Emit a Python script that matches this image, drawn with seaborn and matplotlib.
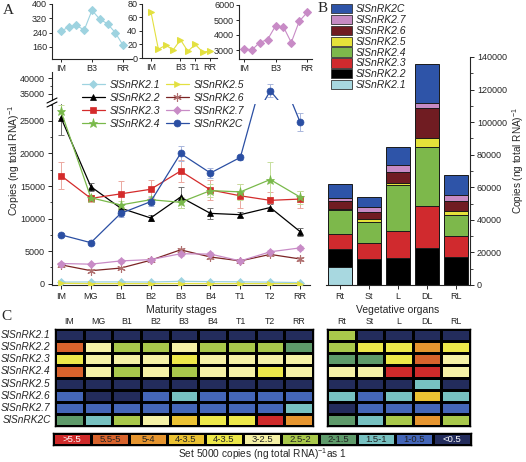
import numpy as np
import pandas as pd
import matplotlib
matplotlib.use('Agg')
import matplotlib.pyplot as plt
import seaborn as sns
from matplotlib.colors import ListedColormap
from matplotlib.patches import Patch
from matplotlib.lines import Line2D
from matplotlib.ticker import MultipleLocator

# ---------------- data ----------------
stages = ['IM', 'MG', 'B1', 'B2', 'B3', 'B4', 'T1', 'T2', 'RR']
organs = ['Rt', 'St', 'L', 'DL', 'RL']
genes = ['SlSnRK2.1', 'SlSnRK2.2', 'SlSnRK2.3', 'SlSnRK2.4',
         'SlSnRK2.5', 'SlSnRK2.6', 'SlSnRK2.7', 'SlSnRK2C']

snrk21 = [250, 270, 280, 255, 365, 315, 290, 240, 170]
snrk22 = [25500, 14900, 11600, 10100, 13300, 10800, 10600, 11700, 8000]
snrk23 = [16600, 13100, 13800, 14500, 17300, 14400, 13500, 12800, 13000]
snrk24 = [26500, 13200, 12100, 12900, 12500, 14300, 14100, 16000, 13300]
snrk25 = [68, 13, 19, 12, 27, 10, 20, 9, 10]
snrk26 = [2900, 2000, 2400, 3600, 5200, 4100, 3500, 4500, 3800]
snrk27 = [3100, 3000, 3500, 3700, 4600, 4550, 3500, 4900, 5500]
snrk2c = [7500, 6300, 10800, 12600, 20000, 17000, 19400, 36000, 24800]

err21 = [20, 20, 20, 20, 30, 20, 20, 20, 20]
err22 = [2700, 600, 700, 500, 1600, 900, 400, 500, 600]
err23 = [2100, 500, 2000, 1400, 1700, 1500, 1800, 1300, 1300]
err24 = [1000, 500, 600, 600, 800, 1000, 1200, 2700, 1000]
err25 = [5, 2, 2, 2, 3, 2, 2, 2, 2]
err26 = [300, 200, 200, 250, 350, 300, 250, 300, 300]
err27 = [250, 200, 250, 250, 300, 300, 250, 300, 300]
err2c = [300, 300, 600, 700, 1200, 700, 400, 2000, 1400]

# vegetative organs (segment values, copies per ng total RNA)
veg21 = [11000, 300, 300, 300, 300]
veg22 = [11100, 15700, 16300, 22200, 16900]
veg23 = [9300, 9800, 16600, 26100, 13000]
veg24 = [14800, 12800, 27900, 36000, 12900]
veg25 = [300, 1800, 1700, 5900, 2400]
veg26 = [5200, 4400, 6700, 18400, 6200]
veg27 = [1800, 3000, 4300, 3100, 3700]
veg2c = [8600, 6300, 11100, 23400, 12300]

# heat-map classes (0 = >5.5 ... 10 = <0.5)
class_labels = ['>5.5', '5.5-5', '5-4', '4-3.5', '4-3.5', '3-2.5',
                '2.5-2', '2-1.5', '1.5-1', '1-0.5', '<0.5']
heat_stage = [
    [10, 10, 10, 10, 10, 10, 10, 10, 10],
    [1, 5, 6, 6, 5, 6, 6, 6, 7],
    [4, 5, 5, 5, 4, 5, 5, 5, 5],
    [1, 5, 6, 5, 6, 5, 5, 4, 5],
    [10, 10, 10, 10, 10, 10, 10, 10, 10],
    [9, 10, 10, 9, 8, 9, 9, 9, 9],
    [9, 9, 9, 9, 9, 9, 9, 9, 8],
    [7, 8, 6, 5, 3, 4, 4, 0, 2],
]
heat_organ = [
    [6, 10, 10, 10, 10],
    [6, 4, 4, 2, 4],
    [7, 7, 4, 1, 5],
    [5, 5, 0, 0, 5],
    [10, 10, 10, 8, 10],
    [8, 9, 8, 3, 8],
    [10, 9, 9, 9, 9],
    [7, 8, 6, 2, 6],
]

# ---------------- style ----------------
sns.set_style('ticks')
plt.rcParams['font.family'] = ['Liberation Sans', 'DejaVu Sans']
plt.rcParams['mathtext.default'] = 'regular'
plt.rcParams['axes.linewidth'] = 0.8

line_colors = ['#9ED3E0', '#000000', '#D42B2B', '#79B94A', '#E3E040', '#7B2424', '#C88BC6', '#2B4FA3']
marker_face = ['#9ED3E0', '#000000', '#D42B2B', '#79B94A', '#E3E040', '#B07070', '#C88BC6', '#2B4FA3']
err_colors = ['#C8E6EE', '#707070', '#EBA8A0', '#C6DE9C', '#EEEC98', '#C8A0A0', '#E0C0E0', '#A9B6DC']
markers = ['D', '^', 's', '*', '>', (6, 2, 0), 'D', 'o']
msizes = [4, 5, 4.3, 6.5, 5, 6, 4, 5]
bar_colors = ['#A8D8E0', '#000000', '#D02A2E', '#7DB84B', '#E5E23A', '#701C22', '#C68BC4', '#2E54A8']
heat_colors = ['#CF2A2A', '#D8632C', '#E6952F', '#EBC233', '#EDE84A', '#F5F1A6',
               '#A9C84B', '#5E9A6A', '#77C1C1', '#4466B8', '#232C5C']

series = [snrk21, snrk22, snrk23, snrk24, snrk25, snrk26, snrk27, snrk2c]
errs = [err21, err22, err23, err24, err25, err26, err27, err2c]
veg = [veg21, veg22, veg23, veg24, veg25, veg26, veg27, veg2c]

W, H = 526, 462
fig = plt.figure(figsize=(W / 100, H / 100), dpi=100)


def rect(x0, y0, x1, y1):
    return [x0 / W, 1 - y1 / H, (x1 - x0) / W, (y1 - y0) / H]


pos = np.arange(len(stages))
TICK = 6.5

# ---------------- insets ----------------
insets = [
    (0, rect(52, 4, 132, 59), (-1.16, 9.16), (93, 400), [160, 240, 320, 400], [0, 4, 8]),
    (4, rect(142, 4, 217, 58), (-1.22, 8.95), (0, 80), [0, 20, 40, 60, 80], [0, 4, 6, 8]),
    (6, rect(239, 5, 312, 59), (-0.63, 8.63), (2400, 6000), [3000, 4000, 5000, 6000], [0, 4, 8]),
]
for gi, r, xl, yl, yt, xt in insets:
    ax = fig.add_axes(r)
    df = pd.DataFrame({'x': pos, 'y': series[gi]})
    sns.lineplot(data=df, x='x', y='y', ax=ax, color=line_colors[gi], lw=0.8,
                 marker=markers[gi], markersize=msizes[gi] * 0.9,
                 markerfacecolor=marker_face[gi], markeredgecolor=marker_face[gi])
    ax.set_xlim(*xl)
    ax.set_ylim(*yl)
    ax.set_yticks(yt)
    ax.set_xticks(xt)
    ax.set_xticklabels([stages[i] for i in xt])
    ax.set_xlabel('')
    ax.set_ylabel('')
    sns.despine(ax=ax)
    ax.tick_params(labelsize=TICK, length=2.5, width=0.7, pad=1)

# ---------------- main line chart (broken axis) ----------------
axl = fig.add_axes(rect(52, 104, 310, 285))
axu = fig.add_axes(rect(52, 72, 310, 100))
for ax in (axl, axu):
    for i, g in enumerate(genes):
        df = pd.DataFrame({'x': pos, 'y': series[i]})
        ax.errorbar(pos, series[i], yerr=errs[i], fmt='none', ecolor=err_colors[i],
                    elinewidth=0.7, capsize=2, capthick=0.7, zorder=1)
        sns.lineplot(data=df, x='x', y='y', ax=ax, color=line_colors[i], lw=0.9,
                     marker=markers[i], markersize=msizes[i],
                     markerfacecolor=marker_face[i], markeredgecolor=marker_face[i],
                     markeredgewidth=0.8 if i == 5 else 0.5,
                     label=g if ax is axl else None, legend=False, zorder=3)
    ax.set_xlim(-0.30, 8.33)
    ax.set_xlabel('')
    ax.set_ylabel('')

axl.set_ylim(-200, 27600)
axl.set_yticks([0, 5000, 10000, 15000, 20000, 25000])
axl.yaxis.set_minor_locator(MultipleLocator(2500))
axl.set_xticks(pos)
axl.set_xticklabels(stages)
sns.despine(ax=axl)
axl.tick_params(labelsize=TICK, length=3, width=0.7, pad=2)
axl.tick_params(which='minor', length=1.8, width=0.6)
axl.set_xlabel('Maturity stages', fontsize=7.5, labelpad=3)

axu.set_ylim(33100, 41900)
axu.set_yticks([35000, 40000])
axu.yaxis.set_minor_locator(MultipleLocator(2500))
axu.set_xticks([])
sns.despine(ax=axu, bottom=True)
axu.tick_params(labelsize=TICK, length=3, width=0.7, pad=2)
axu.tick_params(which='minor', length=1.8, width=0.6)

# break marks
for yb in (100.5, 104.5):
    fig.add_artist(Line2D([47 / W, 57 / W], [1 - (yb + 2.5) / H, 1 - (yb - 2.5) / H],
                          color='black', lw=0.8))

fig.text(14 / W, 1 - 160 / H, 'Copies (ng total RNA)$^{-1}$', rotation=90,
         ha='center', va='center', fontsize=7.5)

h, l = axl.get_legend_handles_labels()
fig.legend(h, l, loc='upper left', bbox_to_anchor=(82 / W, 1 - 80 / H), ncol=2,
           frameon=False, prop={'style': 'italic', 'size': 7.5},
           handlelength=2.2, handletextpad=0.45, columnspacing=0.55,
           labelspacing=0.28, borderpad=0, borderaxespad=0)

# ---------------- stacked bars ----------------
axb = fig.add_axes(rect(326, 57, 470, 285))
veg_arr = np.array(veg, dtype=float)
cum = np.cumsum(veg_arr, axis=0)
for i in range(len(genes) - 1, -1, -1):
    sns.barplot(x=organs, y=cum[i], ax=axb, color=bar_colors[i], saturation=1,
                width=0.82, edgecolor='#1a1a1a', linewidth=0.7)
axb.set_xlim(-0.48, 4.48)
axb.set_ylim(0, 140000)
axb.set_yticks(np.arange(0, 140001, 20000))
axb.yaxis.set_minor_locator(MultipleLocator(10000))
axb.yaxis.tick_right()
axb.spines['left'].set_visible(False)
axb.spines['top'].set_visible(False)
axb.spines['right'].set_visible(True)
axb.tick_params(labelsize=TICK, length=3, width=0.7, pad=2)
axb.tick_params(which='minor', length=1.8, width=0.6)
axb.set_xlabel('Vegetative organs', fontsize=7.5, labelpad=3)
axb.set_ylabel('')
fig.text(518 / W, 1 - 160 / H, 'Copies (ng total RNA)$^{-1}$', rotation=90,
         ha='center', va='center', fontsize=7.2)

bh = [Patch(facecolor=bar_colors[i], edgecolor='#333333', linewidth=0.6) for i in range(7, -1, -1)]
bl = [genes[i] for i in range(7, -1, -1)]
fig.legend(bh, bl, loc='upper left', bbox_to_anchor=(331 / W, 1 - 4 / H), frameon=False,
           prop={'style': 'italic', 'size': 7.5}, handlelength=2.0, handleheight=1.0,
           handletextpad=0.4, labelspacing=0.06, borderpad=0, borderaxespad=0)

# ---------------- heat maps ----------------
cmap = ListedColormap(heat_colors)
axh1 = fig.add_axes(rect(55, 329, 313, 426))
axh2 = fig.add_axes(rect(327, 329, 470, 426))
sns.heatmap(np.array(heat_stage), ax=axh1, cmap=cmap, vmin=-0.5, vmax=10.5, cbar=False,
            linewidths=0.9, linecolor='black', xticklabels=stages, yticklabels=genes)
sns.heatmap(np.array(heat_organ), ax=axh2, cmap=cmap, vmin=-0.5, vmax=10.5, cbar=False,
            linewidths=0.9, linecolor='black', xticklabels=organs, yticklabels=False)
for ax in (axh1, axh2):
    ax.xaxis.tick_top()
    ax.tick_params(axis='x', length=0, labelsize=6.3, pad=2)
    ax.tick_params(axis='y', length=0, pad=3)
    for s in ax.spines.values():
        s.set_visible(True)
        s.set_linewidth(1.0)
        s.set_color('black')
for t in axh1.get_yticklabels():
    t.set_rotation(0)
    t.set_fontstyle('italic')
    t.set_fontsize(7.3)

# color key
axc = fig.add_axes(rect(53, 433, 471, 445))
key = np.arange(len(class_labels)).reshape(1, -1)
sns.heatmap(key, ax=axc, cmap=cmap, vmin=-0.5, vmax=10.5, cbar=False,
            linewidths=0.9, linecolor='black', xticklabels=False, yticklabels=False,
            annot=np.array(class_labels).reshape(1, -1), fmt='',
            annot_kws={'fontsize': 6.8})
for k, t in enumerate(axc.texts):
    t.set_color('white' if k in (0, 10) else '#222222')
for s in axc.spines.values():
    s.set_visible(True)
    s.set_linewidth(1.0)
    s.set_color('black')

fig.text(262 / W, 1 - 454 / H, 'Set 5000 copies (ng total RNA)$^{-1}$as 1',
         ha='center', va='center', fontsize=7.3)

# panel letters
for lab, x, y in [('A', 8, 10), ('B', 323, 9), ('C', 6, 316)]:
    fig.text(x / W, 1 - y / H, lab, ha='center', va='center', fontsize=11,
             family='Liberation Serif')

fig.savefig('out.png', dpi=100)
